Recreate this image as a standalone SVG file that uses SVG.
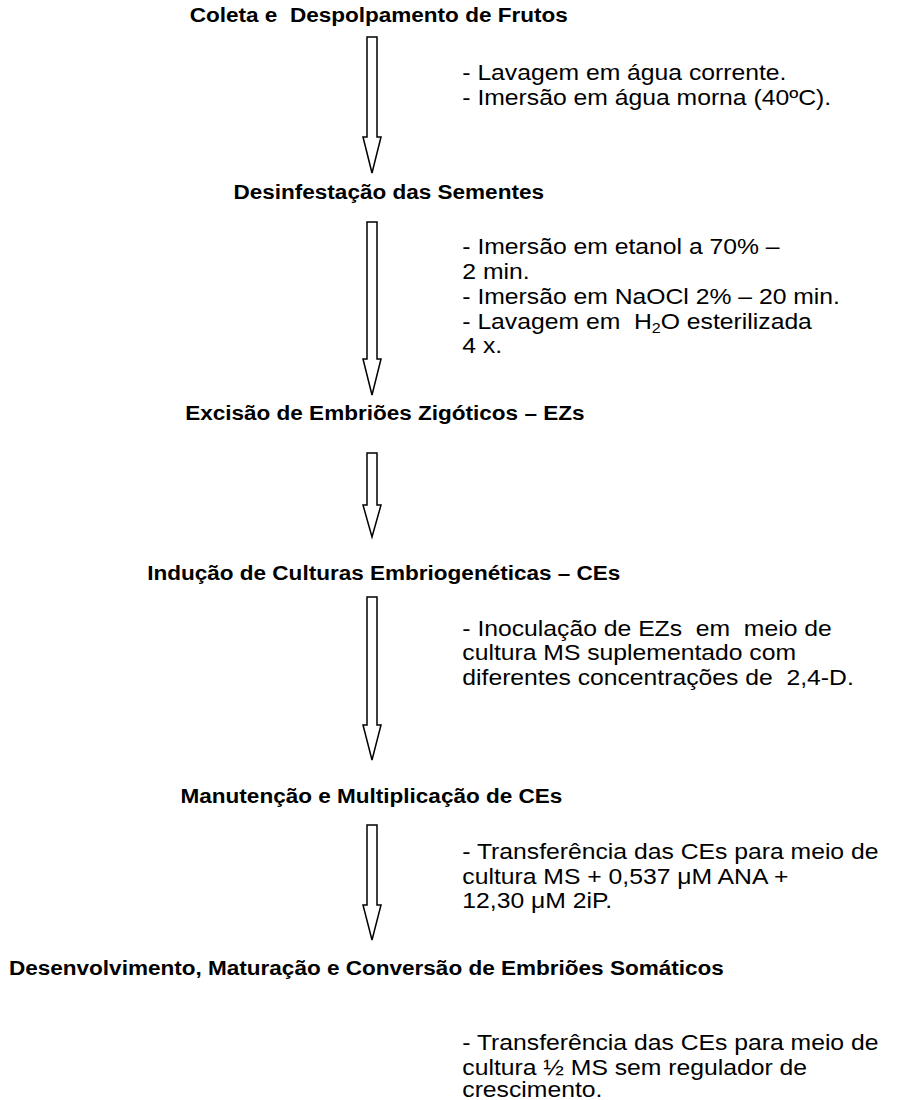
<svg xmlns="http://www.w3.org/2000/svg" width="898" height="1100" viewBox="0 0 898 1100">
<style>
.t{font-family:"Liberation Sans",Arial,sans-serif;font-weight:bold;font-size:19.6px;fill:#000}
.s{font-family:"Liberation Sans",Arial,sans-serif;font-size:21.5px;fill:#000}
.a{fill:#fff;stroke:#000;stroke-width:1.5;stroke-linejoin:miter}
</style>
<rect width="898" height="1100" fill="#fff"/>
<g id="connectors">
<path class="a" d="M367,37 L377,37 L377,137 L381,137 L372,173 L363,137 L367,137 Z"/>
<path class="a" d="M367,222 L377,222 L377,359 L381,359 L372,395 L363,359 L367,359 Z"/>
<path class="a" d="M367,453 L377,453 L377,505 L381,505 L372,537 L363,505 L367,505 Z"/>
<path class="a" d="M367,597 L377,597 L377,725 L381,725 L372,760 L363,725 L367,725 Z"/>
<path class="a" d="M367,825 L377,825 L377,905 L381,905 L372,940 L363,905 L367,905 Z"/>
</g>
<g transform="scale(1.15,1)">
<g id="n1"><text class="t" x="165" y="22" xml:space="preserve">Coleta e  Despolpamento de Frutos</text></g>
<g id="n1-note">
<text class="s" x="402" y="80">- Lavagem em água corrente.</text>
<text class="s" x="402" y="105">- Imersão em água morna (40ºC).</text>
</g>
<g id="n2"><text class="t" x="203" y="199">Desinfestação das Sementes</text></g>
<g id="n2-note">
<text class="s" x="402" y="254">- Imersão em etanol a 70% –</text>
<text class="s" x="402" y="279">2 min.</text>
<text class="s" x="402" y="304">- Imersão em NaOCl 2% – 20 min.</text>
<text class="s" x="402" y="329" xml:space="preserve">- Lavagem em  H<tspan font-size="14" dy="4">2</tspan><tspan dy="-4">O esterilizada</tspan></text>
<text class="s" x="402" y="353">4 x.</text>
</g>
<g id="n3"><text class="t" x="161" y="420">Excisão de Embriões Zigóticos – EZs</text></g>
<g id="n4"><text class="t" x="128" y="580">Indução de Culturas Embriogenéticas – CEs</text></g>
<g id="n4-note">
<text class="s" x="402" y="636" xml:space="preserve">- Inoculação de EZs  em  meio de</text>
<text class="s" x="402" y="660">cultura MS suplementado com</text>
<text class="s" x="402" y="685" xml:space="preserve">diferentes concentrações de  2,4-D.</text>
</g>
<g id="n5"><text class="t" x="157" y="803">Manutenção e Multiplicação de CEs</text></g>
<g id="n5-note">
<text class="s" x="402" y="859">- Transferência das CEs para meio de</text>
<text class="s" x="402" y="884">cultura MS + 0,537 μM ANA +</text>
<text class="s" x="402" y="908">12,30 μM 2iP.</text>
</g>
<g id="n6"><text class="t" x="7.8" y="975">Desenvolvimento, Maturação e Conversão de Embriões Somáticos</text></g>
<g id="n6-note">
<text class="s" x="402" y="1050">- Transferência das CEs para meio de</text>
<text class="s" x="402" y="1075">cultura ½ MS sem regulador de</text>
<text class="s" x="402" y="1097">crescimento.</text>
</g>
</g>
</svg>
